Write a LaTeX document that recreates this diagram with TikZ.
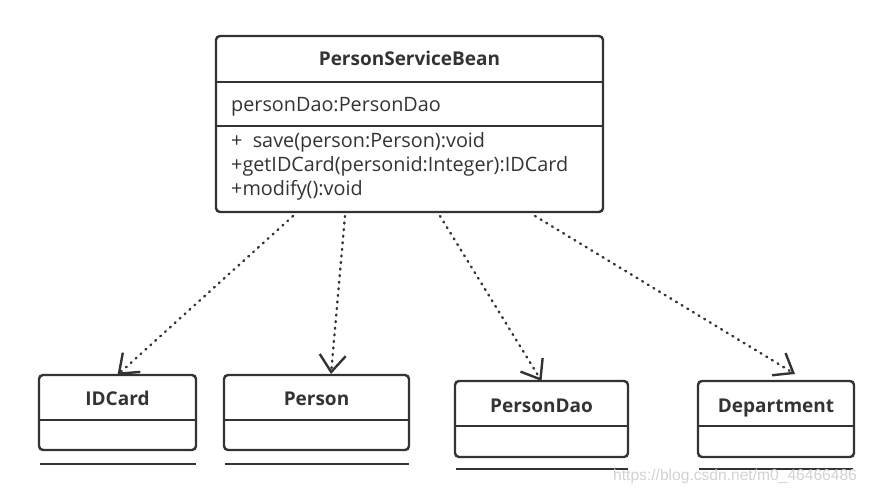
\documentclass[tikz,border=0pt]{standalone}
\usepackage{fontspec}
\setmainfont{Open Sans}
\newfontfamily\wmfont{Liberation Sans}
\usetikzlibrary{arrows.meta}
\definecolor{ink}{HTML}{333333}
\begin{document}
\begin{tikzpicture}[x=1pt,y=-1pt,
  box/.style={draw=ink, line width=2.4pt, rounded corners=4pt, inner sep=0pt, outer sep=0pt, anchor=north west},
  sep/.style={draw=ink, line width=2.4pt},
  uline/.style={draw=ink, line width=1.4pt},
  cname/.style={font=\bfseries\fontsize{19}{22}\selectfont, text=ink, inner sep=0pt, anchor=base},
  member/.style={font=\fontsize{19.8}{22}\selectfont, text=ink, inner sep=0pt, anchor=base west},
  dep/.style={draw=ink, line width=2.4pt, line cap=round, dash pattern=on 1pt off 5.6pt, -{Straight Barb[length=17pt,width=26pt]}},
]
\useasboundingbox (0,0) rectangle (870,495);

% main class
\node[box, minimum width=387pt, minimum height=176pt] (psb) at (216,36) {};
\draw[sep] (216,82) -- (603,82);
\draw[sep] (216,126) -- (603,126);
\node[cname] (psbt) at (409.5,66) {PersonServiceBean};
\node[member] (attr) at (231,111) {personDao:PersonDao};
\node[member] (m1) at (231,147) {+ \ save(person:Person):void};
\node[member] (m2) at (231,171) {+getIDCard(personid:Integer):IDCard};
\node[member] (m3) at (231,195) {+modify():void};

% IDCard
\node[box, minimum width=157pt, minimum height=75pt] (idc) at (39,375) {};
\draw[sep] (39,420) -- (196,420);
\node[cname] (idct) at (117.5,405) {IDCard};
\draw[uline] (40,464) -- (196,464);

% Person
\node[box, minimum width=185pt, minimum height=75pt] (per) at (224,375) {};
\draw[sep] (224,420) -- (409,420);
\node[cname] (pert) at (316.5,405) {Person};
\draw[uline] (225,464) -- (409,464);

% PersonDao
\node[box, minimum width=173pt, minimum height=76pt] (pdao) at (455,381) {};
\draw[sep] (455,426) -- (628,426);
\node[cname] (pdaot) at (541.5,412) {PersonDao};
\draw[uline] (456,469) -- (628,469);

% Department
\node[box, minimum width=156pt, minimum height=76pt] (dept) at (698,381) {};
\draw[sep] (698,426) -- (854,426);
\node[cname] (deptt) at (776,412) {Department};
\draw[uline] (699,469) -- (853,469);

% dependencies
\coordinate (s1) at (293,216);
\coordinate (s2) at (345,216);
\coordinate (s3) at (440,216);
\coordinate (s4) at (535,216);
\coordinate (e2) at (331,374);
\coordinate (e4) at (795,374);
\draw[dep] (s1) -- (idc.north);
\draw[dep] (s2) -- (e2);
\draw[dep] (s3) -- (pdao.north);
\draw[dep] (s4) -- (e4);

\node[font=\wmfont\fontsize{15.6}{18}\selectfont, text=gray!35, anchor=base west, inner sep=0pt] (wm) at (613,480) {https://blog.csdn.net/m0\_46466486};
\end{tikzpicture}
\end{document}
